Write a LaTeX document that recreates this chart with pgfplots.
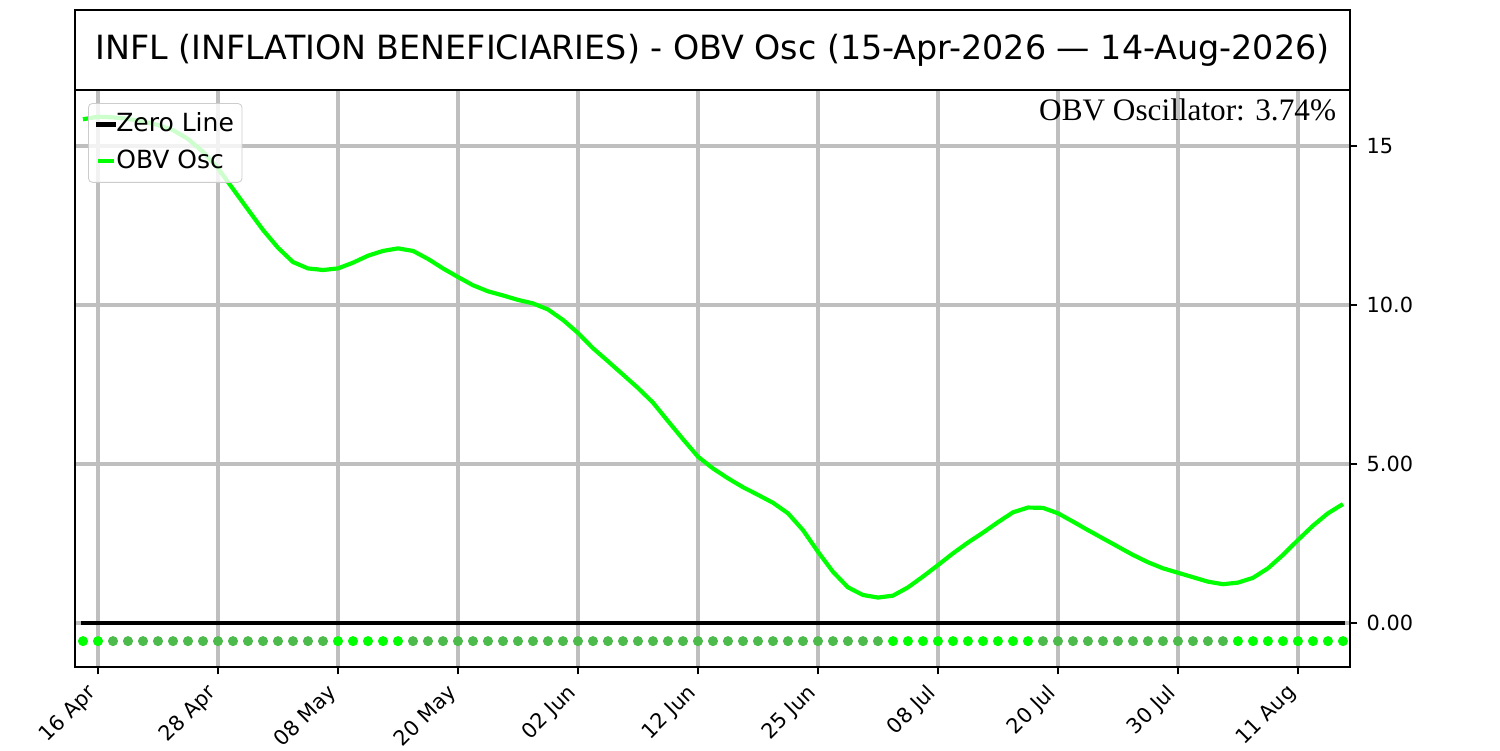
\documentclass[border=0pt]{standalone}
\usepackage{pgfplots}
\pgfplotsset{compat=1.18}
\usepackage{fontspec}
\setmainfont{DejaVu Sans}
\newfontfamily\serifann{Liberation Serif}
\definecolor{brightg}{RGB}{0,255,0}
\definecolor{dimg}{RGB}{76,187,76}
\definecolor{gridc}{RGB}{191,191,191}
\begin{document}
\begin{tikzpicture}
\path[use as bounding box] (0,0) rectangle (720pt,360pt);
\begin{axis}[
  at={(36pt,39.84pt)}, anchor=south west,
  width=612pt, height=276.96pt, scale only axis,
  xmin=-0.533, xmax=84.47, ymin=-1.384, ymax=16.76,
  axis line style={line width=0.8pt, black},
  xtick={1,9,17,25,33,41,49,57,65,73,81},
  xticklabels={16 Apr,28 Apr,08 May,20 May,02 Jun,12 Jun,25 Jun,08 Jul,20 Jul,30 Jul,11 Aug},
  ytick={0,5,10,15},
  yticklabels={0.00,5.00,10.0,15},
  xtick pos=left, ytick pos=right, yticklabel pos=right,
  tick align=outside, major tick length=3.5pt,
  tick style={line width=0.8pt, black},
  xticklabel style={font=\fontsize{10}{12}\selectfont, xshift=-5.8pt, yshift=-2.4pt, rotate=45, anchor=north east, inner sep=1pt},
  yticklabel style={font=\fontsize{10}{12}\selectfont, anchor=west, xshift=1pt},
  grid=major, major grid style={gridc, line width=2pt},
  legend style={at={(0,1)}, anchor=north west, xshift=6.24pt, yshift=-6.24pt,
    draw=black!20, rounded corners=2pt, fill=white, fill opacity=0.8, text opacity=1,
    font=\fontsize{12}{14}\selectfont, inner xsep=3.6pt, inner ysep=2.85pt,
    nodes={inner xsep=0.3pt, inner ysep=1.5pt, text height=9pt, text depth=2.5pt},
    row sep=3.2pt, column sep=0pt},
  legend cell align=left,
  legend image code/.code={\draw[#1] (0pt,0pt) -- (7.5pt,0pt);},
]
\addplot[black, line width=2pt, line cap=rect] coordinates {(0,0) (84,0)};
\addlegendentry{Zero Line}
\addplot[brightg, line width=2pt] coordinates {
(0,15.84) (1,15.92) (2,15.90) (3,15.85) (4,15.77) (5,15.66) (6,15.50) (7,15.22) (8,14.82) (9,14.30)
(10,13.65) (11,13.00) (12,12.36) (13,11.80) (14,11.35) (15,11.15) (16,11.10) (17,11.15) (18,11.33) (19,11.55)
(20,11.70) (21,11.78) (22,11.70) (23,11.45) (24,11.15) (25,10.88) (26,10.62) (27,10.43) (28,10.30) (29,10.16)
(30,10.05) (31,9.86) (32,9.53) (33,9.12) (34,8.64) (35,8.23) (36,7.81) (37,7.39) (38,6.93) (39,6.35)
(40,5.78) (41,5.23) (42,4.86) (43,4.55) (44,4.27) (45,4.03) (46,3.78) (47,3.45) (48,2.92) (49,2.24)
(50,1.61) (51,1.12) (52,0.88) (53,0.80) (54,0.86) (55,1.12) (56,1.46) (57,1.82) (58,2.19) (59,2.53)
(60,2.84) (61,3.17) (62,3.48) (63,3.63) (64,3.62) (65,3.45) (66,3.19) (67,2.92) (68,2.66) (69,2.40)
(70,2.14) (71,1.91) (72,1.72) (73,1.58) (74,1.44) (75,1.30) (76,1.22) (77,1.27) (78,1.42) (79,1.72)
(80,2.14) (81,2.61) (82,3.06) (83,3.45) (84,3.74)};
\addlegendentry{OBV Osc}
\addplot[only marks, mark=*, mark size=2.2pt, color=dimg, mark options={draw=dimg, fill=dimg}, forget plot] coordinates {
(2,-0.57) (3,-0.57) (4,-0.57) (5,-0.57) (6,-0.57) (7,-0.57) (8,-0.57) (9,-0.57) (10,-0.57) (11,-0.57)
(12,-0.57) (13,-0.57) (14,-0.57) (15,-0.57) (16,-0.57)
(22,-0.57) (23,-0.57) (24,-0.57) (25,-0.57) (26,-0.57) (27,-0.57) (28,-0.57) (29,-0.57) (30,-0.57) (31,-0.57)
(32,-0.57) (33,-0.57) (34,-0.57) (35,-0.57) (36,-0.57) (37,-0.57) (38,-0.57) (39,-0.57) (40,-0.57) (41,-0.57)
(42,-0.57) (43,-0.57) (44,-0.57) (45,-0.57) (46,-0.57) (47,-0.57) (48,-0.57) (49,-0.57) (50,-0.57) (51,-0.57)
(52,-0.57) (53,-0.57)
(64,-0.57) (65,-0.57) (66,-0.57) (67,-0.57) (68,-0.57) (69,-0.57) (70,-0.57) (71,-0.57) (72,-0.57) (73,-0.57)
(74,-0.57) (75,-0.57) (76,-0.57)};
\addplot[only marks, mark=*, mark size=2.2pt, color=brightg, mark options={draw=brightg, fill=brightg}, forget plot] coordinates {
(0,-0.57) (1,-0.57)
(17,-0.57) (18,-0.57) (19,-0.57) (20,-0.57) (21,-0.57)
(54,-0.57) (55,-0.57) (56,-0.57) (57,-0.57) (58,-0.57) (59,-0.57) (60,-0.57) (61,-0.57) (62,-0.57) (63,-0.57)
(77,-0.57) (78,-0.57) (79,-0.57) (80,-0.57) (81,-0.57) (82,-0.57) (83,-0.57) (84,-0.57)};
\end{axis}
\draw[line width=0.8pt, black] (36pt,316.8pt) rectangle (648pt,355.2pt);
\node[font=\fontsize{16}{19}\selectfont, anchor=center] at (342pt,336pt) {INFL (INFLATION BENEFICIARIES) - OBV Osc (15-Apr-2026 — 14-Aug-2026)};
\node[font=\serifann\fontsize{15}{18}\selectfont, anchor=base east, inner sep=0pt] at (641.5pt,302.4pt) {OBV Oscillator: 3.74\%};
\end{tikzpicture}
\end{document}
